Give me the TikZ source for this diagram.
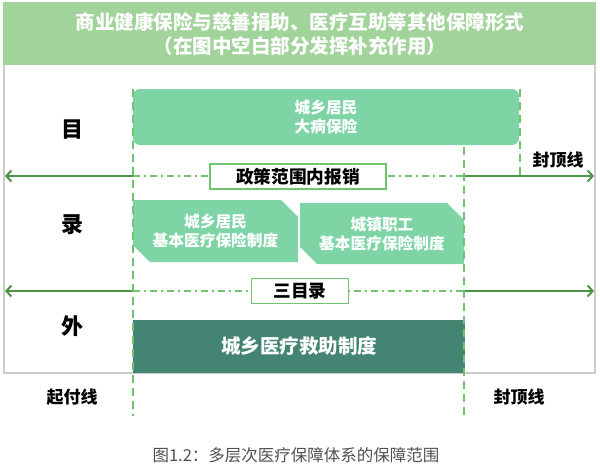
\documentclass[tikz,border=0pt]{standalone}
\usepackage{fontspec}
\setmainfont{Noto Sans CJK SC}
\usetikzlibrary{arrows.meta,shapes.misc}
\definecolor{bandgreen}{RGB}{161,211,155}
\definecolor{lightbox}{RGB}{127,212,166}
\definecolor{darkbox}{RGB}{67,133,114}
\definecolor{arrowgreen}{RGB}{78,148,72}
\definecolor{dashgreen}{RGB}{112,196,112}
\definecolor{framegray}{RGB}{208,204,200}
\definecolor{captiongray}{RGB}{80,80,80}
\tikzset{
  band/.style={fill=bandgreen},
  framebox/.style={draw=framegray, line width=1.5pt},
  titletext/.style={text=white, font=\fontsize{19.5}{24}\selectfont\bfseries, align=center},
  lightboxstyle/.style={fill=lightbox, text=white, align=center, inner sep=0pt,
    font=\fontsize{15.7}{19}\selectfont\bfseries},
  chambox/.style={lightboxstyle, chamfered rectangle, chamfered rectangle corners={north east, south west},
    chamfered rectangle xsep=10pt, chamfered rectangle ysep=7pt},
  darkboxstyle/.style={fill=darkbox, text=white, inner sep=0pt, font=\fontsize{19.5}{22}\selectfont\bfseries},
  sidelabel/.style={font=\fontsize{22}{24}\selectfont\bfseries, text=black},
  linelabel/.style={font=\fontsize{17}{18}\selectfont\bfseries, text=black},
  whitebox/.style={fill=white, draw=dashgreen, line width=1.5pt, inner sep=0pt,
    font=\fontsize{17.7}{19}\selectfont\bfseries},
  mainarrow/.style={draw=arrowgreen, line width=2.2pt, -{Straight Barb[length=5pt,width=11pt,line width=2pt]}},
  dashdotline/.style={draw=dashgreen, line width=1.3pt, dash pattern=on 7pt off 4pt on 2pt off 4pt},
  vdash/.style={draw=dashgreen, line width=1.5pt, dash pattern=on 8pt off 5pt},
  caption/.style={text=captiongray, font=\fontsize{16.5}{18}\selectfont}
}
\begin{document}
\begin{tikzpicture}[x=1pt,y=-1pt]
\useasboundingbox (0,0) rectangle (600,471);
% frame and band
\draw[framebox] (4,3) rectangle (595,373);
\fill[band] (3,2) rectangle (596,65);
\node[titletext] (title) at (300,34) {商业健康保险与慈善捐助、医疗互助等其他保障形式\\（在图中空白部分发挥补充作用）};

% boxes
\node[lightboxstyle, rounded corners=7pt, minimum width=386pt, minimum height=56pt] (dabing) at (326,117) {城乡居民\\大病保险};
\node[chambox, minimum width=165pt, minimum height=62pt] (jumin) at (215.5,231) {城乡居民\\基本医疗保险制度};
\node[chambox, minimum width=164pt, minimum height=61pt] (zhigong) at (382,233.5) {城镇职工\\基本医疗保险制度};
\node[darkboxstyle, minimum width=332pt, minimum height=53pt] (jiuzhu) at (299,346.5) {城乡医疗救助制度};

% side labels
\node[sidelabel] (mu) at (72,130) {目};
\node[sidelabel] (lu) at (72,225) {录};
\node[sidelabel] (wai) at (72,326) {外};

% line 1
\coordinate (l1) at (5,176);
\coordinate (r1) at (594,176);
\coordinate (a1) at (133,176);
\coordinate (b1) at (464,176);
\draw[dashdotline] (a1) -- (b1);
\draw[mainarrow] (a1) -- (l1);
\draw[mainarrow] (b1) -- (r1);
\node[whitebox, minimum width=176pt, minimum height=25pt] (zhengce) at (298,176.5) {政策范围内报销};

% line 2
\coordinate (l2) at (5,291);
\coordinate (r2) at (594,291);
\coordinate (a2) at (133,291);
\coordinate (b2) at (464,291);
\draw[dashdotline] (a2) -- (b2);
\draw[mainarrow] (a2) -- (l2);
\draw[mainarrow] (b2) -- (r2);
\node[whitebox, minimum width=97pt, minimum height=25pt] (sanmulu) at (300,291) {三目录};

% vertical dashed lines
\coordinate (v1t) at (133,89);
\coordinate (v1b) at (133,416);
\coordinate (v2t) at (464,147);
\coordinate (v2b) at (464,416);
\coordinate (v3t) at (520,89);
\coordinate (v3b) at (520,176);
\draw[vdash] (v1t) -- (v1b);
\draw[vdash] (v2t) -- (v2b);
\draw[vdash] (v3t) -- (v3b);

% line labels
\node[linelabel] (fengding1) at (558,160) {封顶线};
\node[linelabel] (qifu) at (72,397) {起付线};
\node[linelabel] (fengding2) at (519,397) {封顶线};

% caption
\node[caption] (cap) at (296,455) {图1.2：多层次医疗保障体系的保障范围};
\end{tikzpicture}
\end{document}
